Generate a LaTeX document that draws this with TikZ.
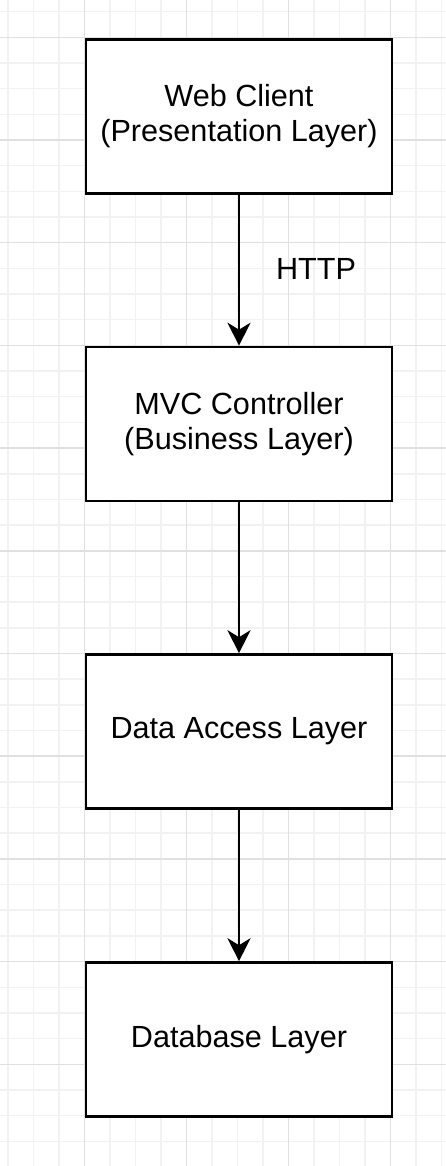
\documentclass[tikz,border=0pt]{standalone}
\usepackage{fontspec}
\setmainfont{Liberation Sans}
\usetikzlibrary{arrows.meta}
\definecolor{gridminor}{HTML}{F2F2F2}
\definecolor{gridmajor}{HTML}{E0E0E0}
\tikzset{
  layerbox/.style={draw=black, line width=2.6pt, fill=white, rectangle,
    minimum width=306pt, minimum height=154pt, align=center,
    font=\fontsize{30.6}{35}\selectfont, inner sep=0pt},
  flow/.style={line width=2.2pt, -{Stealth[length=23pt,width=23pt,inset=7pt]}},
  lbl/.style={font=\fontsize{30.6}{35}\selectfont, inner sep=0pt},
  minorline/.style={draw=gridminor, line width=1.5pt},
  majorline/.style={draw=gridmajor, line width=1.5pt}
}
\begin{document}
\begin{tikzpicture}[x=1pt,y=-1pt]
\useasboundingbox[fill=white] (0,0) rectangle (446,1166);
% grid
\foreach \i in {0,...,17}{
  \pgfmathtruncatemacro{\m}{mod(\i,4)}
  \ifnum\m=3\relax\else
    \draw[minorline] ({8.2+25.5*\i},0) -- ({8.2+25.5*\i},1166);
  \fi
}
\foreach \j in {0,...,45}{
  \pgfmathtruncatemacro{\m}{mod(\j,4)}
  \ifnum\m=1\relax\else
    \draw[minorline] (0,{11.6+25.675*\j}) -- (446,{11.6+25.675*\j});
  \fi
}
\foreach \i in {3,7,11,15}{
  \draw[majorline] ({8.2+25.5*\i},0) -- ({8.2+25.5*\i},1166);
}
\foreach \j in {1,5,...,45}{
  \draw[majorline] (0,{11.6+25.675*\j}) -- (446,{11.6+25.675*\j});
}
% boxes
\node[layerbox] (web) at (239,116.5) {Web Client\\(Presentation Layer)};
\node[layerbox] (mvc) at (239,424) {MVC Controller\\(Business Layer)};
\node[layerbox] (dal) at (239,731.5) {Data Access Layer};
\node[layerbox] (db) at (239,1039.5) {Database Layer};
% connectors
\draw[flow] (web.south) -- (mvc.north);
\draw[flow] (mvc.south) -- (dal.north);
\draw[flow] (dal.south) -- (db.north);
\node[lbl] (http) at (316,269) {HTTP};
\end{tikzpicture}
\end{document}
